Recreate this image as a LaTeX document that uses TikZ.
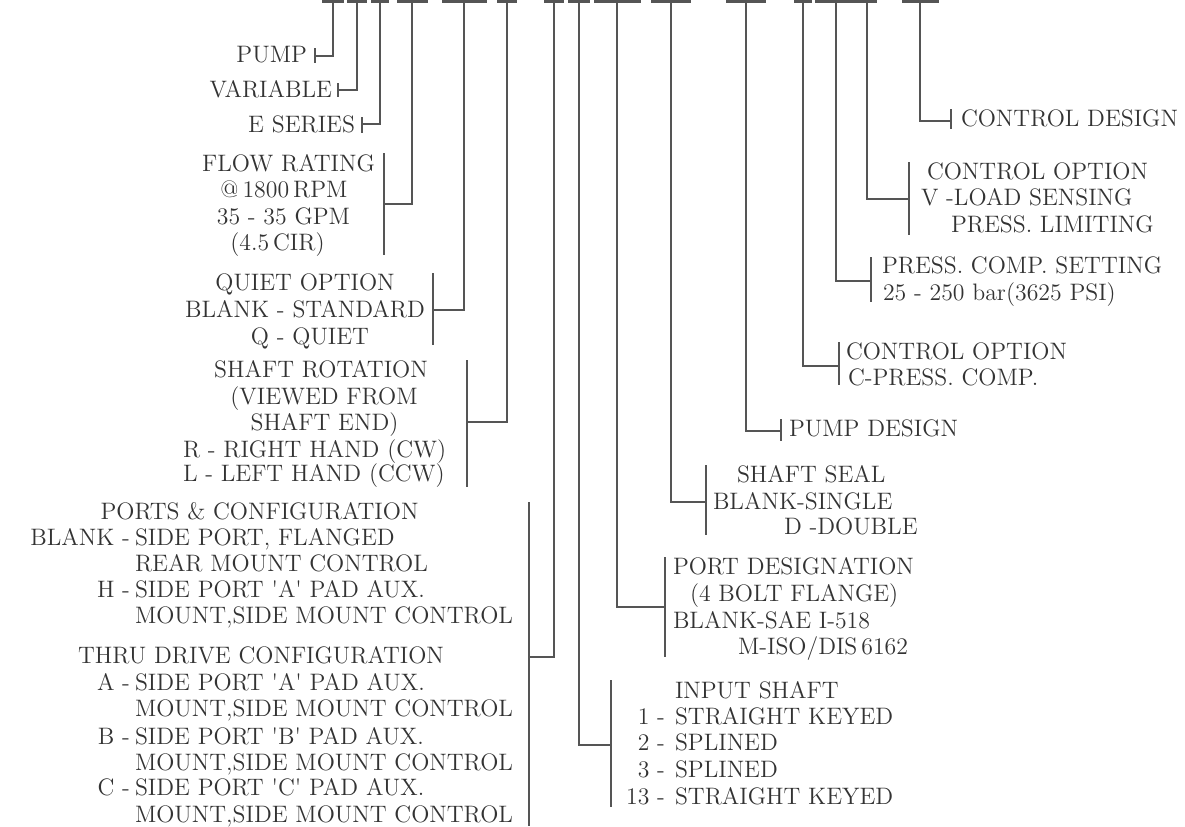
\documentclass[tikz,border=0pt]{standalone}
\usepackage{xcolor}
\definecolor{ink}{HTML}{333333}
\definecolor{linec}{HTML}{555555}
\tikzset{
  lbl/.style={inner sep=0pt, outer sep=0pt, text=ink, font=\fontsize{11.9}{14}\selectfont},
  bar/.style={rectangle, fill=linec, draw=none, inner sep=0pt, minimum height=1.3pt},
  conn/.style={draw=linec, line width=0.65pt},
}
\begin{document}
\begin{tikzpicture}[x=0.5pt,y=-0.5pt]
\useasboundingbox[fill=white] (0,0) rectangle (1185,826);

% ---- top code bars ----
\node[bar, minimum width=11pt]   (b1)  at (333,1.3) {};
\node[bar, minimum width=10pt]   (b2)  at (357,1.3) {};
\node[bar, minimum width=9pt]    (b3)  at (380,1.3) {};
\node[bar, minimum width=15.5pt] (b4)  at (412,1.3) {};
\node[bar, minimum width=22.5pt] (b5)  at (464,1.3) {};
\node[bar, minimum width=10pt]   (b6)  at (507,1.3) {};
\node[bar, minimum width=10pt]   (b7)  at (554,1.3) {};
\node[bar, minimum width=11pt]   (b8)  at (579,1.3) {};
\node[bar, minimum width=23.5pt] (b9)  at (617,1.3) {};
\node[bar, minimum width=20pt]   (b10) at (671,1.3) {};
\node[bar, minimum width=20pt]   (b11) at (746,1.3) {};
\node[bar, minimum width=9pt]    (b12) at (803,1.3) {};
\node[bar, minimum width=21.5pt] (b13) at (836,1.3) {};
\node[bar, minimum width=9.5pt]  (b14) at (867,1.3) {};
\node[bar, minimum width=18.5pt] (b15) at (920,1.3) {};

% ---- bracket coordinates ----
\coordinate (j1) at (315,56);  \coordinate (k1t) at (315,48);  \coordinate (k1b) at (315,63);
\coordinate (j2) at (338,90);  \coordinate (k2t) at (338,83);  \coordinate (k2b) at (338,97);
\coordinate (j3) at (362,124); \coordinate (k3t) at (362,117); \coordinate (k3b) at (362,133);
\coordinate (j4) at (384,204); \coordinate (k4t) at (384,153); \coordinate (k4b) at (384,255);
\coordinate (j5) at (433,310); \coordinate (k5t) at (433,273); \coordinate (k5b) at (433,345);
\coordinate (j6) at (467,422); \coordinate (k6t) at (467,360); \coordinate (k6b) at (467,487);
\coordinate (j7) at (529,657); \coordinate (k7t) at (529,502); \coordinate (k7b) at (529,826);
\coordinate (j8) at (611,745); \coordinate (k8t) at (611,680); \coordinate (k8b) at (611,807);
\coordinate (j9) at (665,607); \coordinate (k9t) at (665,557); \coordinate (k9b) at (665,657);
\coordinate (j10) at (706,502); \coordinate (k10t) at (706,465); \coordinate (k10b) at (706,535);
\coordinate (j11) at (781,431); \coordinate (k11t) at (781,419); \coordinate (k11b) at (781,441);
\coordinate (j12) at (839,366); \coordinate (k12t) at (839,342); \coordinate (k12b) at (839,385);
\coordinate (j13) at (871,281); \coordinate (k13t) at (871,257); \coordinate (k13b) at (871,302);
\coordinate (j14) at (909,199); \coordinate (k14t) at (909,162); \coordinate (k14b) at (909,235);
\coordinate (j15) at (951,121); \coordinate (k15t) at (951,109); \coordinate (k15b) at (951,129);

% ---- connectors ----
\foreach \i in {1,...,15}{
  \draw[conn] (b\i.center) |- (j\i);
  \draw[conn] (k\i t) -- (k\i b);
}

% ---- left labels ----
\node[lbl, anchor=base east] (pump) at (307,62.5) {PUMP};
\node[lbl, anchor=base east] (var) at (332,97.5) {VARIABLE};
\node[lbl, anchor=base east] (eser) at (355,132.5) {E SERIES};

\node[lbl, anchor=base] (fr1) at (288.5,171.5) {FLOW RATING};
\node[lbl, anchor=base] (fr2) at (284,197.5) {@\,1800\,RPM};
\node[lbl, anchor=base] (fr3) at (283.5,224.5) {35 - 35 GPM};
\node[lbl, anchor=base] (fr4) at (277.5,250.5) {(4.5\,CIR)};

\node[lbl, anchor=base] (qo1) at (305,290.5) {QUIET OPTION};
\node[lbl, anchor=base] (qo2) at (305,317.5) {BLANK - STANDARD};
\node[lbl, anchor=base] (qo3) at (310,344.5) {Q - QUIET};

\node[lbl, anchor=base] (sr1) at (321,377.5) {SHAFT ROTATION};
\node[lbl, anchor=base] (sr2) at (324,404.5) {(VIEWED FROM};
\node[lbl, anchor=base] (sr3) at (324.5,430.5) {SHAFT END)};
\node[lbl, anchor=base west] (sr4) at (183,457.5) {R - RIGHT HAND (CW)};
\node[lbl, anchor=base west] (sr5) at (183,481.5) {L - LEFT HAND (CCW)};

\node[lbl, anchor=base] (pc1) at (259.5,519.5) {PORTS \& CONFIGURATION};
\node[lbl, anchor=base east] (pc2k) at (130,545.5) {BLANK -};
\node[lbl, anchor=base west] (pc2) at (135,545.5) {SIDE PORT, FLANGED};
\node[lbl, anchor=base west] (pc3) at (135,571.5) {REAR MOUNT CONTROL};
\node[lbl, anchor=base east] (pc4k) at (130,597.5) {H -};
\node[lbl, anchor=base west] (pc4) at (135,597.5) {SIDE PORT \textquotesingle A\textquotesingle\ PAD AUX.};
\node[lbl, anchor=base west] (pc5) at (135,623.5) {MOUNT,SIDE MOUNT CONTROL};

\node[lbl, anchor=base] (td1) at (261,663.5) {THRU DRIVE CONFIGURATION};
\node[lbl, anchor=base east] (td2k) at (130,690.5) {A -};
\node[lbl, anchor=base west] (td2) at (135,690.5) {SIDE PORT \textquotesingle A\textquotesingle\ PAD AUX.};
\node[lbl, anchor=base west] (td3) at (135,716.5) {MOUNT,SIDE MOUNT CONTROL};
\node[lbl, anchor=base east] (td4k) at (130,744.5) {B -};
\node[lbl, anchor=base west] (td4) at (135,744.5) {SIDE PORT \textquotesingle B\textquotesingle\ PAD AUX.};
\node[lbl, anchor=base west] (td5) at (135,770.5) {MOUNT,SIDE MOUNT CONTROL};
\node[lbl, anchor=base east] (td6k) at (130,795.5) {C -};
\node[lbl, anchor=base west] (td6) at (135,795.5) {SIDE PORT \textquotesingle C\textquotesingle\ PAD AUX.};
\node[lbl, anchor=base west] (td7) at (135,822) {MOUNT,SIDE MOUNT CONTROL};

% ---- right labels ----
\node[lbl, anchor=base west] (cd) at (961,126.5) {CONTROL DESIGN};

\node[lbl, anchor=base west] (cv1) at (927,179.5) {CONTROL OPTION};
\node[lbl, anchor=base west] (cv2) at (921,205.5) {V -LOAD SENSING};
\node[lbl, anchor=base west] (cv3) at (951,232.5) {PRESS. LIMITING};

\node[lbl, anchor=base west] (ps1) at (882,273.5) {PRESS. COMP. SETTING};
\node[lbl, anchor=base west] (ps2) at (883,300.5) {25 - 250 bar(3625 PSI)};

\node[lbl, anchor=base west] (cc1) at (846,359.5) {CONTROL OPTION};
\node[lbl, anchor=base west] (cc2) at (848,385.5) {C-PRESS. COMP.};

\node[lbl, anchor=base west] (pd) at (789,436.5) {PUMP DESIGN};

\node[lbl, anchor=base west] (ss1) at (737,482.5) {SHAFT SEAL};
\node[lbl, anchor=base west] (ss2) at (713,509.5) {BLANK-SINGLE};
\node[lbl, anchor=base west] (ss3) at (784,534.5) {D -DOUBLE};

\node[lbl, anchor=base west] (pt1) at (673,574.5) {PORT DESIGNATION};
\node[lbl, anchor=base west] (pt2) at (690,601.5) {(4 BOLT FLANGE)};
\node[lbl, anchor=base west] (pt3) at (673,628.5) {BLANK-SAE I-518};
\node[lbl, anchor=base west] (pt4) at (738,654.5) {M-ISO/DIS\,6162};

\node[lbl, anchor=base west] (is0) at (675,698.5) {INPUT SHAFT};
\node[lbl, anchor=base east] (is1k) at (665,724.5) {1 -};
\node[lbl, anchor=base west] (is1) at (675,724.5) {STRAIGHT KEYED};
\node[lbl, anchor=base east] (is2k) at (665,750.5) {2 -};
\node[lbl, anchor=base west] (is2) at (675,750.5) {SPLINED};
\node[lbl, anchor=base east] (is3k) at (665,777.5) {3 -};
\node[lbl, anchor=base west] (is3) at (675,777.5) {SPLINED};
\node[lbl, anchor=base east] (is4k) at (665,804.5) {13 -};
\node[lbl, anchor=base west] (is4) at (675,804.5) {STRAIGHT KEYED};
\end{tikzpicture}
\end{document}
